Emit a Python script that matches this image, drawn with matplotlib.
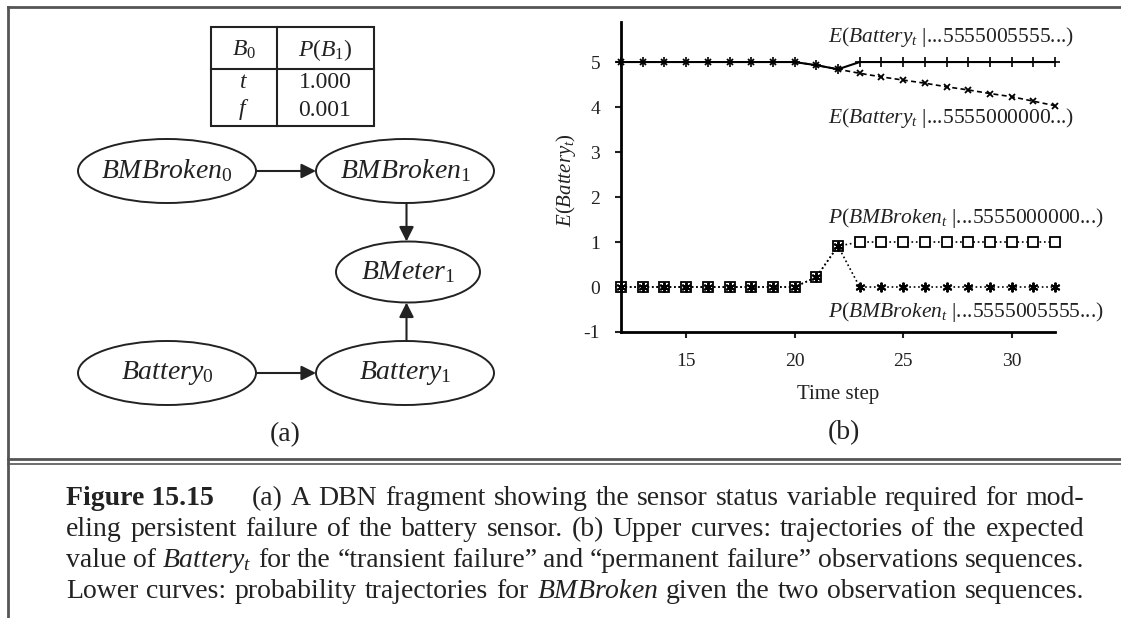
import matplotlib
matplotlib.use('Agg')
import matplotlib.pyplot as plt
from matplotlib.patches import Ellipse, Rectangle

plt.rcParams['font.family'] = 'Liberation Serif'
plt.rcParams['mathtext.fontset'] = 'custom'
plt.rcParams['mathtext.rm'] = 'Liberation Serif'
plt.rcParams['mathtext.it'] = 'Liberation Serif:italic'
plt.rcParams['mathtext.bf'] = 'Liberation Serif:bold'
plt.rcParams['axes.unicode_minus'] = False

# Données (b)
steps = [12, 13, 14, 15, 16, 17, 18, 19, 20, 21, 22, 23, 24, 25, 26, 27, 28, 29, 30, 31, 32]
e_transient = [5.0, 5.0, 5.0, 5.0, 5.0, 5.0, 5.0, 5.0, 5.0, 4.93, 4.84,
               5.0, 5.0, 5.0, 5.0, 5.0, 5.0, 5.0, 5.0, 5.0, 5.0]
e_permanent = [5.0, 5.0, 5.0, 5.0, 5.0, 5.0, 5.0, 5.0, 5.0, 4.93, 4.84,
               4.75, 4.67, 4.60, 4.53, 4.45, 4.38, 4.30, 4.23, 4.13, 4.03]
p_permanent = [0.0, 0.0, 0.0, 0.0, 0.0, 0.0, 0.0, 0.0, 0.0, 0.22, 0.91,
               1.0, 1.0, 1.0, 1.0, 1.0, 1.0, 1.0, 1.0, 1.0, 1.0]
p_transient = [0.0, 0.0, 0.0, 0.0, 0.0, 0.0, 0.0, 0.0, 0.0, 0.22, 0.91,
               0.0, 0.0, 0.0, 0.0, 0.0, 0.0, 0.0, 0.0, 0.0, 0.0]
curve_labels = [r'$E$($Battery_t$ |...5555005555...)',
                r'$E$($Battery_t$ |...5555000000...)',
                r'$P$($BMBroken_t$ |...5555000000...)',
                r'$P$($BMBroken_t$ |...5555005555...)']
x_ticks = [15, 20, 25, 30]
y_ticks = [-1, 0, 1, 2, 3, 4, 5]

# Données (a)
node_labels = [r'$BMBroken_0$', r'$BMBroken_1$', r'$BMeter_1$', r'$Battery_0$', r'$Battery_1$']
edges = [(0, 1), (1, 2), (4, 2), (3, 4)]
cpt_header = [r'$B_0$', r'$P$($B_1$)']
cpt_rows = [(r'$t$', '1.000'), (r'$f$', '0.001')]

caption = [
    [('Figure 15.15', 'bold'), ('(a)', None), ('A', None), ('DBN', None), ('fragment', None), ('showing', None),
     ('the', None), ('sensor', None), ('status', None), ('variable', None), ('required', None), ('for', None),
     ('mod-', None)],
    [('eling', None), ('persistent', None), ('failure', None), ('of', None), ('the', None), ('battery', None),
     ('sensor.', None), ('(b)', None), ('Upper', None), ('curves:', None), ('trajectories', None), ('of', None),
     ('the', None), ('expected', None)],
    [('value', None), ('of', None), (r'$Battery_t$', None), ('for', None), ('the', None), ('“transient', None),
     ('failure”', None), ('and', None), ('“permanent', None), ('failure”', None), ('observations', None),
     ('sequences.', None)],
    [('Lower', None), ('curves:', None), ('probability', None), ('trajectories', None), ('for', None),
     (r'$BMBroken$', None), ('given', None), ('the', None), ('two', None), ('observation', None),
     ('sequences.', None)],
]

W, H = 1121, 618
fig = plt.figure(figsize=(W / 100, H / 100), dpi=100)
bg = fig.add_axes([0, 0, 1, 1])
bg.set_xlim(0, W)
bg.set_ylim(H, 0)
bg.axis('off')

# cadre
fc = '#555555'
bg.plot([8, W], [7, 7], color=fc, lw=2)
bg.plot([8, 8], [7, H], color=fc, lw=2)
bg.plot([8, W], [459, 459], color=fc, lw=2)
bg.plot([8, W], [463.5, 463.5], color=fc, lw=1.2)

# réseau (a)
node_xy = [(167, 171), (405, 171), (408, 272), (167, 373), (405, 373)]
node_wh = [(178, 64), (178, 64), (144, 61), (178, 64), (178, 64)]
for lab, (x, y), (w, h) in zip(node_labels, node_xy, node_wh):
    bg.add_patch(Ellipse((x, y), w, h, fill=False, ec='#222222', lw=1.4))
    bg.text(x, y, lab, fontsize=20, ha='center', va='center', color='#222222')

for a, b in edges:
    (xa, ya), (xb, yb) = node_xy[a], node_xy[b]
    (wa, ha), (wb, hb) = node_wh[a], node_wh[b]
    if ya == yb:
        p0, p1 = (xa + wa / 2, ya), (xb - wb / 2, yb)
    else:
        s = 1 if yb > ya else -1
        xm = (xa + xb) / 2
        p0, p1 = (xm, ya + s * ha / 2), (xm, yb - s * hb / 2)
    bg.annotate('', xy=p1, xytext=p0,
                arrowprops=dict(arrowstyle='-|>', color='#222222', lw=1.5,
                                mutation_scale=22, shrinkA=0, shrinkB=0))

# table
bg.add_patch(Rectangle((211, 27), 163, 99, fill=False, ec='#222222', lw=1.5))
bg.plot([277, 277], [27, 126], color='#222222', lw=1.5)
bg.plot([211, 374], [69, 69], color='#222222', lw=1.5)
cx = [244, 325]
for c, txt in zip(cx, cpt_header):
    bg.text(c, 50, txt, fontsize=17, ha='center', va='center', color='#222222')
for yy, row in zip([83, 110], cpt_rows):
    for c, txt in zip(cx, row):
        bg.text(c, yy, txt, fontsize=17, ha='center', va='center', color='#222222')

bg.text(285, 435, '(a)', fontsize=20, ha='center', va='center', color='#222222')
bg.text(844, 433, '(b)', fontsize=20, ha='center', va='center', color='#222222')

# courbes (b)
ax = fig.add_axes([621 / W, 1 - 332 / H, 434 / W, 310 / H])
ax.set_facecolor('none')
ax.plot(steps, e_transient, color='k', lw=1.5, marker='+', ms=7, mew=1.2, clip_on=False)
ax.plot(steps, e_permanent, color='k', lw=1.2, ls=(0, (3, 2)), marker='x', ms=5, mew=1.3, clip_on=False)
ax.plot(steps, p_permanent, color='k', lw=1.2, ls=':', marker='s', ms=6.5, mfc='white', mew=1.3, clip_on=False)
ax.plot(steps, p_transient, color='k', lw=1.2, ls=':', marker=(6, 2, 0), ms=7, mew=1.4, clip_on=False)
ax.set_xlim(12, 32)
ax.set_ylim(-1, 5.89)
for side in ['top', 'right']:
    ax.spines[side].set_visible(False)
for side in ['left', 'bottom']:
    ax.spines[side].set_linewidth(2)
ax.set_xticks(x_ticks)
ax.set_yticks(y_ticks)
ax.tick_params(direction='out', length=4, width=1.5, labelsize=14, pad=11, colors='#222222')
ax.set_xlabel('Time step', fontsize=15, color='#222222')
ax.set_ylabel(r'$E$($Battery_t$)', fontsize=15, color='#222222')
ax.xaxis.label.set_va('center')
ax.yaxis.label.set_va('center')
ax.xaxis.set_label_coords(0.5, -0.203)
ax.yaxis.set_label_coords(-0.127, 0.49)

label_pos = [(21.54, 5.55), (21.54, 3.76), (21.54, 1.53), (21.54, -0.56)]
for lab, (x, y) in zip(curve_labels, label_pos):
    ax.text(x, y, lab, fontsize=15.5, ha='left', va='center', color='#222222', clip_on=False)

# légende justifiée
renderer = fig.canvas.get_renderer()
x0, x1 = 66, 1084
baselines = [505, 536, 567, 598]
for yb, words in zip(baselines, caption):
    texts = [bg.text(0, yb, w, fontsize=20, fontweight=(wt or 'normal'), ha='left', va='baseline',
                     color='#222222') for w, wt in words]
    widths = [t.get_window_extent(renderer).width for t in texts]
    extra = 30 if words[0][1] == 'bold' else 0
    gap = (x1 - x0 - sum(widths) - extra) / (len(words) - 1)
    x = x0
    for i, (t, wd) in enumerate(zip(texts, widths)):
        t.set_x(x)
        x += wd + gap + (extra if i == 0 else 0)

fig.savefig('out.png', dpi=100)
